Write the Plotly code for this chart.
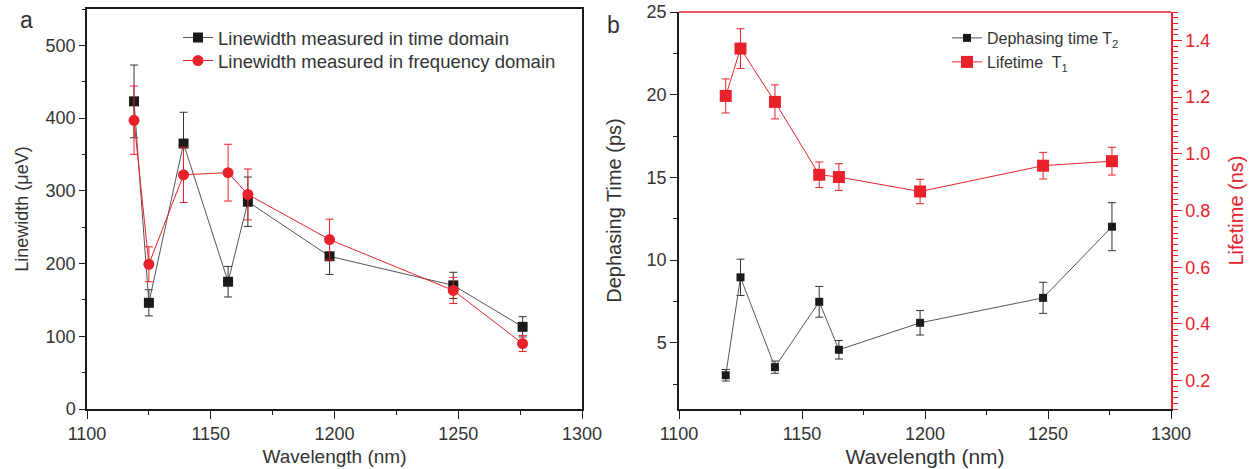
import plotly.graph_objects as go

# ---------------- data ----------------
wavelength = [1119, 1125, 1139, 1157, 1165, 1198, 1248, 1276]

lw_time = [423, 146, 365, 175, 285, 210, 170, 113]
lw_time_err = [50, 18, 43, 21, 34, 25, 18, 14]
lw_freq = [397, 199, 322, 325, 295, 233, 163, 90]
lw_freq_err = [47, 24, 38, 39, 35, 28, 18, 11]

t2 = [3.04, 8.96, 3.53, 7.48, 4.58, 6.21, 7.72, 12.02]
t2_err = [0.35, 1.1, 0.37, 0.93, 0.56, 0.74, 0.94, 1.45]
t1 = [1.204, 1.371, 1.183, 0.926, 0.918, 0.867, 0.958, 0.974]
t1_err = [0.06, 0.07, 0.06, 0.045, 0.047, 0.043, 0.047, 0.049]

x_ticks = [1100, 1150, 1200, 1250, 1300]

W, H = 1256, 469


def px(v):
    return v / W


def py(v):
    return 1 - v / H


BLACK = "#1a1a1a"
LINE_BLACK = "#555555"
RED = "#e8212b"
TXT = "#333333"
FONT = "Liberation Sans"

fig = go.Figure()

# ---------------- panel a ----------------
fig.add_trace(go.Scatter(
    x=wavelength, y=lw_time, mode="lines+markers",
    name="Linewidth measured in time domain",
    line=dict(color=LINE_BLACK, width=1),
    marker=dict(symbol="square", size=10, color=BLACK),
    error_y=dict(type="data", array=lw_time_err, color="#333333", thickness=1, width=4),
    xaxis="x", yaxis="y", legend="legend"))
fig.add_trace(go.Scatter(
    x=wavelength, y=lw_freq, mode="lines+markers",
    name="Linewidth measured in frequency domain",
    line=dict(color=RED, width=1),
    marker=dict(symbol="circle", size=11, color=RED),
    error_y=dict(type="data", array=lw_freq_err, color=RED, thickness=1, width=4),
    xaxis="x", yaxis="y", legend="legend2"))

# ---------------- panel b ----------------
fig.add_trace(go.Scatter(
    x=wavelength, y=t2, mode="lines+markers",
    name="Dephasing time T<sub>2</sub>",
    line=dict(color=LINE_BLACK, width=1),
    marker=dict(symbol="square", size=8, color=BLACK),
    error_y=dict(type="data", array=t2_err, color="#333333", thickness=1, width=4),
    xaxis="x2", yaxis="y2", legend="legend3"))
fig.add_trace(go.Scatter(
    x=wavelength, y=t1, mode="lines+markers",
    name="Lifetime  T<sub>1</sub>",
    line=dict(color=RED, width=1),
    marker=dict(symbol="square", size=12, color=RED),
    error_y=dict(type="data", array=t1_err, color=RED, thickness=1, width=4),
    xaxis="x2", yaxis="y3", legend="legend4"))

tickfont = dict(family=FONT, size=18, color=TXT)


def xaxis_cfg(domain, anchor, mirror, tsize):
    return dict(domain=domain, anchor=anchor, mirror=mirror,
                range=[1100, 1300], tickvals=x_ticks, showline=True, linecolor=BLACK,
                linewidth=1.5, ticks="outside", ticklen=8, tickcolor=BLACK, showgrid=False,
                zeroline=False, tickfont=tickfont, automargin=False,
                minor=dict(dtick=25, tick0=1100, ticks="outside", ticklen=4, tickcolor=BLACK),
                title=dict(text="Wavelength (nm)", font=dict(family=FONT, size=tsize, color=TXT),
                           standoff=6))


def leg(x, y, size):
    return dict(x=x, y=y, xanchor="left", yanchor="middle", bgcolor="rgba(0,0,0,0)",
                font=dict(family=FONT, size=size, color=TXT), itemwidth=30)


fig.update_layout(
    width=W, height=H,
    margin=dict(l=0, r=0, t=0, b=0, autoexpand=False),
    paper_bgcolor="white", plot_bgcolor="white",
    showlegend=True,
    xaxis=xaxis_cfg([px(87), px(582)], "y", True, 19),
    yaxis=dict(domain=[py(409), py(9)], anchor="x", range=[0, 550], dtick=100, tick0=0,
               showline=True, linecolor=BLACK, linewidth=1.5, mirror=True, automargin=False,
               ticks="outside", ticklen=6, tickcolor=BLACK, showgrid=False, zeroline=False,
               tickfont=tickfont,
               minor=dict(dtick=50, tick0=0, ticks="outside", ticklen=3, tickcolor=BLACK),
               title=dict(text="Linewidth (\u03bceV)", font=dict(family=FONT, size=18, color=TXT),
                          standoff=12)),
    xaxis2=xaxis_cfg([px(679), px(1171)], "y2", False, 21),
    yaxis2=dict(domain=[py(409), py(12)], anchor="x2", range=[1, 25], dtick=5, tick0=0,
                showline=True, linecolor=BLACK, linewidth=1.5, automargin=False,
                ticklabeloverflow="allow",
                ticks="outside", ticklen=7, tickcolor=BLACK, showgrid=False, zeroline=False,
                tickfont=tickfont,
                minor=dict(dtick=2.5, tick0=0, ticks="outside", ticklen=4, tickcolor=BLACK),
                title=dict(text="Dephasing Time (ps)", font=dict(family=FONT, size=20, color=TXT),
                           standoff=20)),
    yaxis3=dict(overlaying="y2", anchor="x2", side="right", range=[0.1, 1.5], dtick=0.2, tick0=0,
                tickformat=".1f", automargin=False,
                showline=True, linecolor=RED, linewidth=1.5,
                ticks="outside", ticklen=9, tickcolor=RED, showgrid=False, zeroline=False,
                tickfont=dict(family=FONT, size=18, color=RED),
                minor=dict(dtick=0.02, tick0=0, ticks="outside", ticklen=5, tickcolor=RED),
                title=dict(text="Lifetime (ns)", font=dict(family=FONT, size=20, color=RED),
                           standoff=20)),
    legend=leg(px(219 - 41), py(38), 18.5),
    legend2=leg(px(219 - 41), py(61), 18.5),
    legend3=leg(px(988 - 41), py(38), 16),
    legend4=leg(px(988 - 41), py(62), 16),
    shapes=[dict(type="line", xref="x2 domain", yref="y2 domain", x0=0, x1=1, y0=1, y1=1,
                 line=dict(color=RED, width=1.5))],
    annotations=[
        dict(text="a", x=px(26), y=py(20), xref="paper", yref="paper", xanchor="center",
             yanchor="middle", showarrow=False, font=dict(family=FONT, size=23, color=TXT)),
        dict(text="b", x=px(613), y=py(25), xref="paper", yref="paper", xanchor="center",
             yanchor="middle", showarrow=False, font=dict(family=FONT, size=23, color=TXT)),
    ],
)

# remove the default 8px page margin so the figure fills the window exactly
fig.write_html("out.html", config={"displayModeBar": False},
               post_script="document.body.style.margin='0';")
